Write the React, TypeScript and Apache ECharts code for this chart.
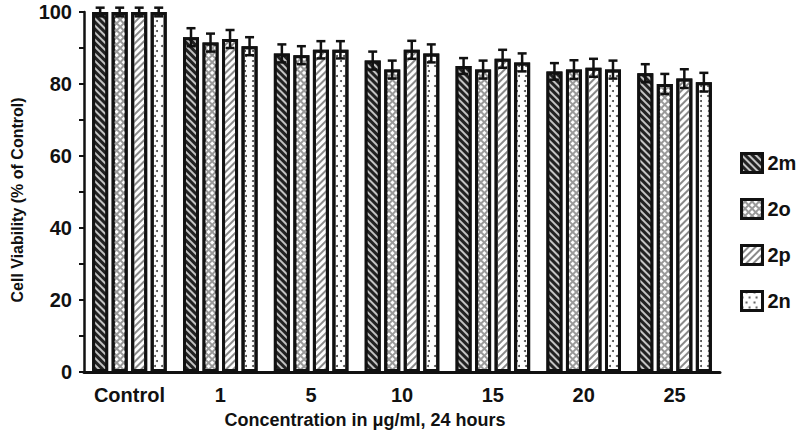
import React, { useEffect, useRef } from "react";
import * as echarts from "echarts";

const categories = ["Control", "1", "5", "10", "15", "20", "25"];
const seriesNames = ["2m", "2o", "2p", "2n"];
const s2m = [100, 93, 88.5, 86.5, 85, 83.5, 83];
const s2o = [100, 91.5, 88, 84, 84, 84, 80];
const s2p = [100, 92.5, 89.5, 89.5, 87, 84.5, 81.5];
const s2n = [100, 90.5, 89.5, 88.5, 86, 84, 80.5];
const err2m = [1.2, 2.5, 2.5, 2.5, 2.2, 2.3, 2.5];
const err2o = [1.2, 2.5, 2.5, 2.5, 2.5, 2.6, 2.8];
const err2p = [1.2, 2.5, 2.4, 2.5, 2.5, 2.5, 2.6];
const err2n = [1.2, 2.5, 2.4, 2.5, 2.5, 2.5, 2.6];
const yTicks = [0, 20, 40, 60, 80, 100];

const FONT = "'Liberation Sans', Arial, sans-serif";
const BAR_W = 16;
const BAR_GAP = 0.22;

const values = [s2m, s2o, s2p, s2n];
const errors = [err2m, err2o, err2p, err2n];

const barStyles: any[] = [
  {
    color: "#222222",
    decal: {
      symbol: "rect",
      color: "rgba(235,235,235,0.8)",
      dashArrayX: [1, 0],
      dashArrayY: [1.1, 2.5],
      rotation: Math.PI / 4,
    },
  },
  {
    color: "#9a9a9a",
    decal: {
      symbol: "rect",
      color: "#ffffff",
      dashArrayX: [2.6, 1.4],
      dashArrayY: [2.6, 1.4],
      rotation: Math.PI / 4,
    },
  },
  {
    color: "#ffffff",
    decal: {
      symbol: "rect",
      color: "#8a8a8a",
      dashArrayX: [1, 0],
      dashArrayY: [1.8, 2.4],
      rotation: -Math.PI / 4,
    },
  },
  {
    color: "#ffffff",
    decal: {
      symbol: "circle",
      color: "#444444",
      symbolSize: 1,
      dashArrayX: [[1.3, 5], [0, 3.1, 1.3, 1.9]],
      dashArrayY: [1.3, 3],
    },
  },
];

export default function App() {
  const ref = useRef<HTMLDivElement>(null);
  useEffect(() => {
    if (!ref.current) return;
    const chart = echarts.init(ref.current, null, { renderer: "svg" });
    const bars = seriesNames.map((name, i) => ({
      name,
      type: "bar",
      barWidth: BAR_W,
      barGap: BAR_GAP * 100 + "%",
      data: values[i],
      itemStyle: {
        ...barStyles[i],
        borderColor: "#111",
        borderWidth: 3,
      },
      z: 2,
    }));
    const errs = seriesNames.map((name, i) => ({
      type: "custom",
      name: name + "-err",
      z: 5,
      clip: false,
      encode: { x: 0, y: 1 },
      data: categories.map((_, k) => [k, values[i][k], errors[i][k]]),
      renderItem: (params: any, api: any) => {
        const x = api.value(0);
        const v = api.value(1);
        const e = api.value(2);
        const offset = (i - 1.5) * BAR_W * (1 + BAR_GAP);
        const top = api.coord([x, v + e]);
        const bot = api.coord([x, v - e]);
        const cx = top[0] + offset;
        const st = { stroke: "#111", lineWidth: 2.5 };
        return {
          type: "group",
          children: [
            { type: "line", shape: { x1: cx, y1: top[1], x2: cx, y2: bot[1] }, style: st },
            { type: "line", shape: { x1: cx - 4.5, y1: top[1], x2: cx + 4.5, y2: top[1] }, style: st },
            { type: "line", shape: { x1: cx - 4.5, y1: bot[1], x2: cx + 4.5, y2: bot[1] }, style: st },
          ],
        };
      },
    }));
    chart.setOption({
      animation: false,
      backgroundColor: "#ffffff",
      textStyle: { fontFamily: FONT },
      grid: { left: 84, right: 80, top: 12, bottom: 61, containLabel: false },
      legend: {
        data: seriesNames,
        orient: "vertical",
        left: 735,
        top: 147,
        itemWidth: 21,
        itemHeight: 19,
        itemGap: 24,
        icon: "rect",
        itemStyle: { borderWidth: 3, borderColor: "#111" },
        textStyle: { fontFamily: FONT, fontWeight: "bold", fontSize: 20, color: "#111" },
        selectedMode: false,
      },
      xAxis: {
        type: "category",
        data: categories,
        axisTick: { show: false },
        axisLine: { lineStyle: { color: "#111", width: 3 } },
        axisLabel: { interval: 0, fontFamily: FONT, fontWeight: "bold", fontSize: 20, color: "#111", margin: 13 },
      },
      yAxis: {
        type: "value",
        min: 0,
        max: 100,
        interval: 10,
        splitLine: { show: false },
        axisLine: { show: true, lineStyle: { color: "#111", width: 2.5 } },
        axisTick: { show: true, length: 5, lineStyle: { color: "#111", width: 2 } },
        axisLabel: {
          fontFamily: FONT,
          fontWeight: "bold",
          fontSize: 20,
          color: "#111",
          margin: 12,
          formatter: (v: number) => (yTicks.indexOf(v) >= 0 ? String(v) : ""),
        },
      },
      graphic: [
        {
          type: "text",
          x: 17,
          y: 200,
          rotation: Math.PI / 2,
          style: {
            text: "Cell Viability (% of Control)",
            fontFamily: FONT,
            fontWeight: "bold",
            fontSize: 16,
            fill: "#111",
            align: "center",
            verticalAlign: "middle",
          },
        },
        {
          type: "text",
          x: 365,
          y: 420,
          style: {
            text: "Concentration in μg/ml, 24 hours",
            fontFamily: FONT,
            fontWeight: "bold",
            fontSize: 18,
            fill: "#111",
            align: "center",
            verticalAlign: "middle",
          },
        },
      ],
      series: [...bars, ...errs],
    });
    return () => chart.dispose();
  }, []);
  return (
    <div
      ref={ref}
      style={{ position: "fixed", left: 0, top: 0, width: 800, height: 433, background: "#fff" }}
    />
  );
}
